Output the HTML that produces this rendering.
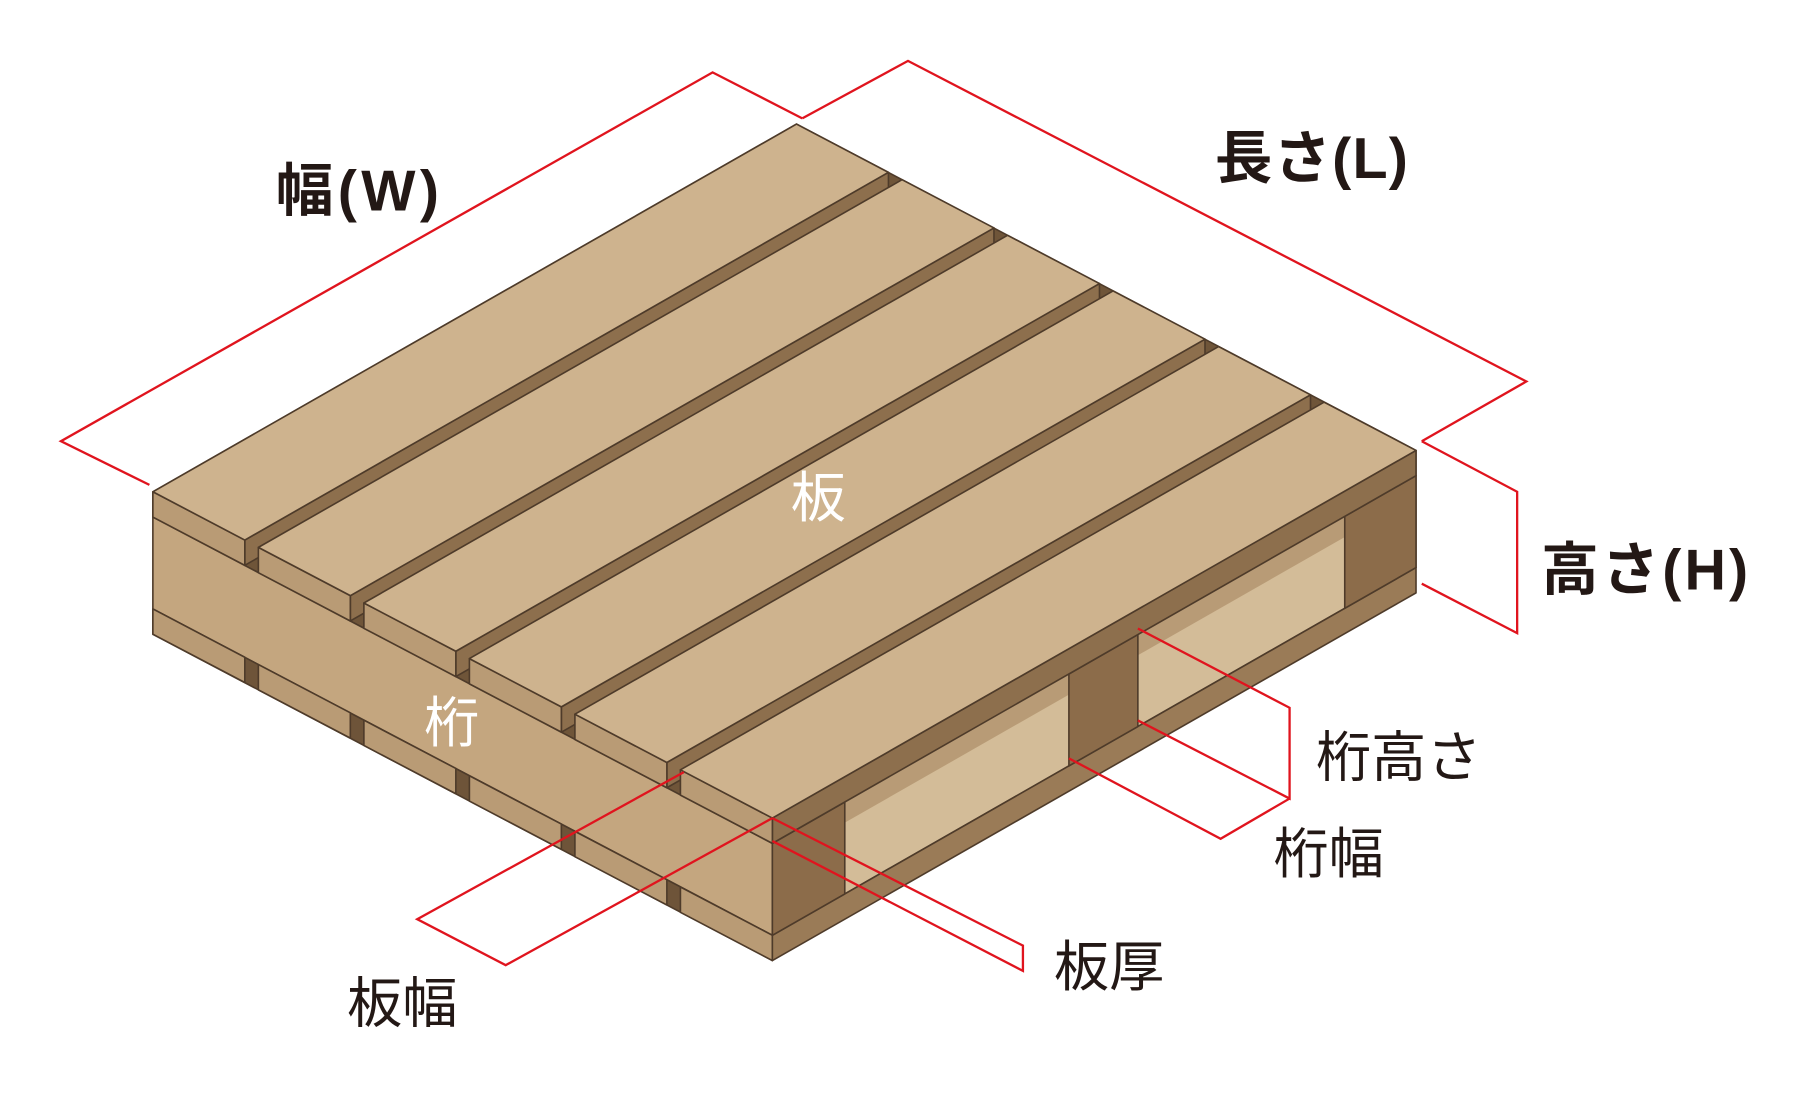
<!DOCTYPE html>
<html><head><meta charset="utf-8"><style>
html,body{margin:0;padding:0;background:#fff;}
svg{display:block;}
text{font-family:"Liberation Sans","Noto Sans CJK JP",sans-serif;}
</style></head><body>
<svg width="1793" height="1095" viewBox="0 0 1560 953" preserveAspectRatio="none" xmlns="http://www.w3.org/2000/svg">
<g stroke="#4e3b2a" stroke-width="1.4" stroke-linejoin="round">
<polygon points="133,428 693,108 1232,392 1232,414 672,734 133,450" fill="#6f5539"/>
<polygon points="133,450 672,734 672,814 133,530" fill="#c4a67f"/>
<polygon points="133,530 672,814 672,836 133,552" fill="#6e5439"/>
<polygon points="133,530 213,572 213,594 133,552" fill="#b99b75"/>
<polygon points="224.8,578.4 304.8,620.4 304.8,642.4 224.8,600.4" fill="#b99b75"/>
<polygon points="316.6,626.8 396.6,668.8 396.6,690.8 316.6,648.8" fill="#b99b75"/>
<polygon points="408.4,675.2 488.4,717.2 488.4,739.2 408.4,697.2" fill="#b99b75"/>
<polygon points="500.2,723.6 580.2,765.6 580.2,787.6 500.2,745.6" fill="#b99b75"/>
<polygon points="592,772 672,814 672,836 592,794" fill="#b99b75"/>
<polygon points="672,734 1232,414 1232,494 672,814" fill="#d3bc98"/>
<polygon points="672,734 1232,414 1232,432 672,752" fill="#b89b76" stroke="none"/>
<polygon points="672,814 1232,494 1232,516 672,836" fill="#9a7b57"/>
<polygon points="672,734 735,698 735,778 672,814" fill="#8c6c4a"/>
<polygon points="930,586.6 990,552.3 990,632.3 930,666.6" fill="#8c6c4a"/>
<polygon points="1170,449.4 1232,414 1232,494 1170,529.4" fill="#8c6c4a"/>
<g>
<polygon points="213,470 773,150 773,172 213,492" fill="#8d6f4d"/>
<polygon points="133,428 213,470 213,492 133,450" fill="#b99b75"/>
<polygon points="133,428 693,108 773,150 213,470" fill="#ceb38e"/>
</g>
<g>
<polygon points="304.8,518.4 864.8,198.4 864.8,220.4 304.8,540.4" fill="#8d6f4d"/>
<polygon points="224.8,476.4 304.8,518.4 304.8,540.4 224.8,498.4" fill="#b99b75"/>
<polygon points="224.8,476.4 784.8,156.4 864.8,198.4 304.8,518.4" fill="#ceb38e"/>
</g>
<g>
<polygon points="396.6,566.8 956.6,246.8 956.6,268.8 396.6,588.8" fill="#8d6f4d"/>
<polygon points="316.6,524.8 396.6,566.8 396.6,588.8 316.6,546.8" fill="#b99b75"/>
<polygon points="316.6,524.8 876.6,204.8 956.6,246.8 396.6,566.8" fill="#ceb38e"/>
</g>
<g>
<polygon points="488.4,615.2 1048.4,295.2 1048.4,317.2 488.4,637.2" fill="#8d6f4d"/>
<polygon points="408.4,573.2 488.4,615.2 488.4,637.2 408.4,595.2" fill="#b99b75"/>
<polygon points="408.4,573.2 968.4,253.2 1048.4,295.2 488.4,615.2" fill="#ceb38e"/>
</g>
<g>
<polygon points="580.2,663.6 1140.2,343.6 1140.2,365.6 580.2,685.6" fill="#8d6f4d"/>
<polygon points="500.2,621.6 580.2,663.6 580.2,685.6 500.2,643.6" fill="#b99b75"/>
<polygon points="500.2,621.6 1060.2,301.6 1140.2,343.6 580.2,663.6" fill="#ceb38e"/>
</g>
<g>
<polygon points="672,712 1232,392 1232,414 672,734" fill="#8d6f4d"/>
<polygon points="592,670 672,712 672,734 592,692" fill="#b99b75"/>
<polygon points="592,670 1152,350 1232,392 672,712" fill="#ceb38e"/>
</g>
</g>
<g fill="none" stroke="#e0141e" stroke-width="2">
<polyline points="130,422 53,384 620,63 698,103"/>
<polyline points="698,103 790,53 1328,332 1237,384"/>
<polyline points="1237,384 1320,428 1320,551 1237,508"/>
<polyline points="990,547 1122,616 1122,695 990,627"/>
<polyline points="930,660 1062,730 1122,695"/>
<polyline points="595,672 363,800 440,840 672,712"/>
<polyline points="672,712 890,823 890,845 672,732"/>
</g>
<g fill="#231815" font-size="50" font-weight="bold">
<text x="240" y="183" textLength="142" lengthAdjust="spacing">幅(W)</text>
<text x="1057" y="155" textLength="168" lengthAdjust="spacing">長さ(L)</text>
<text x="1341" y="513" textLength="180" lengthAdjust="spacing">高さ(H)</text>
</g>
<g fill="#231815" font-size="48">
<text x="1145" y="676">桁高さ</text>
<text x="1108" y="760">桁幅</text>
<text x="917" y="858">板厚</text>
<text x="302" y="890">板幅</text>
</g>
<g fill="#ffffff" font-size="48">
<text x="688" y="450">板</text>
<text x="369" y="646">桁</text>
</g>
</svg>
</body></html>
